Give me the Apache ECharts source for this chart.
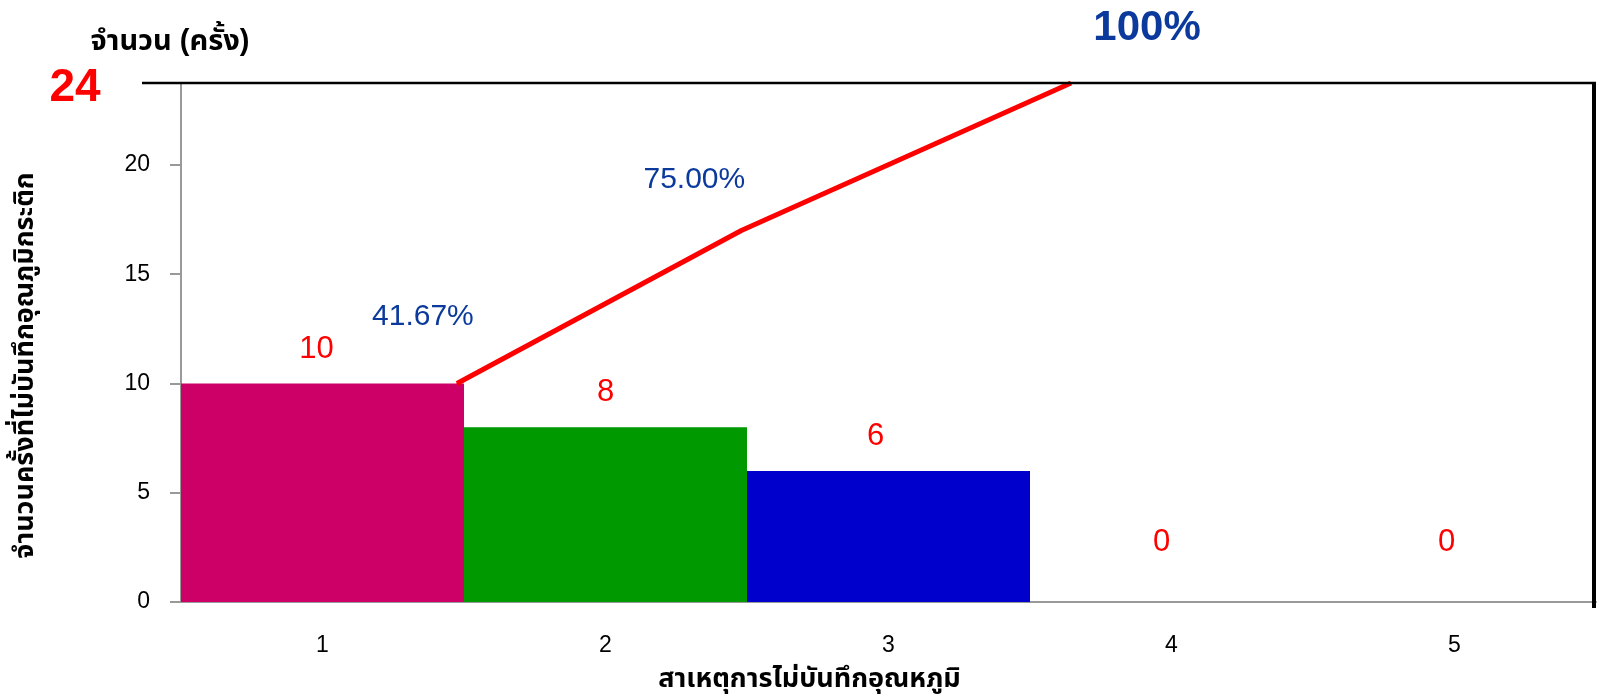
<!DOCTYPE html>
<html>
<head>
<meta charset="utf-8">
<script src="https://cdn.jsdelivr.net/npm/echarts@6/dist/echarts.min.js"></script>
<style>
html,body{margin:0;padding:0;background:#fff;}
#c{width:1599px;height:698px;}
</style>
</head>
<body>
<div id="c"></div>
<script>
// ---- data ----
const categories = ['1', '2', '3', '4', '5'];
const counts = [10, 8, 6, 0, 0];
const barColors = ['#CC0066', '#009900', '#0000CC', '#888888', '#888888'];
const yTickMax = 23.75;          // top of the count axis (frame line)
const yTopLabel = '24';
const cumPctLabels = ['41.67%', '75.00%', '100%'];
const cumLineX = [0.975, 1.98, 3.145];   // position along the categories (0..5)
const cumLineY = [10, 17, 23.75];        // height on the count axis
const yTitle = 'จำนวนครั้งที่ไม่บันทึกอุณภูมิกระติก';
const xTitle = 'สาเหตุการไม่บันทึกอุณหภูมิ';
const topTitle = 'จำนวน (ครั้ง)';

const FONT = "'Liberation Sans', Arial, 'Noto Sans Thai', 'Noto Sans', sans-serif";
const BLUE = '#0B3A9C';

const chart = echarts.init(document.getElementById('c'), null, {renderer: 'canvas'});

const countLabelShift = [-6, 0, -13, -10, -8];
const barData = counts.map((v, i) => ({
  value: v,
  itemStyle: {color: barColors[i]},
  label: {distance: v === 0 ? 44 : 19, offset: [countLabelShift[i], 0]}
}));

const pctOffsets = [[-34, -67], [-47, -51], [76, -55]];
const lineData = cumLineY.map((y, i) => ({
  value: [cumLineX[i], y],
  label: {
    show: true,
    position: 'inside',
    formatter: cumPctLabels[i],
    offset: pctOffsets[i],
    color: BLUE,
    fontFamily: FONT,
    fontSize: i === 2 ? 42 : 30,
    fontWeight: i === 2 ? 'bold' : 'normal'
  }
}));

const option = {
  animation: false,
  backgroundColor: '#fff',
  textStyle: {fontFamily: FONT},
  grid: {left: 181, right: 3, top: 83, bottom: 96, containLabel: false},
  xAxis: [{
    type: 'category',
    data: categories,
    axisLine: {show: true, lineStyle: {color: '#999', width: 2}},
    axisTick: {show: false},
    axisLabel: {color: '#000', fontSize: 23, margin: 32, fontFamily: FONT},
    name: xTitle,
    nameLocation: 'middle',
    nameGap: 64,
    nameTextStyle: {color: '#000', fontSize: 27, fontWeight: 'bold', fontFamily: FONT,
                    padding: [0, 158, 0, 0]},
    splitLine: {show: false}
  }, {
    type: 'value',
    min: 0, max: 5,
    show: false
  }],
  yAxis: [{
    type: 'value',
    min: 0,
    max: yTickMax,
    interval: 5,
    axisLine: {show: true, lineStyle: {color: '#999', width: 2}},
    axisTick: {show: true, length: 11, lineStyle: {color: '#999', width: 2}},
    axisLabel: {
      color: '#000', fontSize: 23, margin: 31, fontFamily: FONT,
      formatter: v => (v % 5 === 0 ? String(v) : '')
    },
    splitLine: {show: false},
    name: yTitle,
    nameLocation: 'middle',
    nameRotate: 90,
    nameGap: 142,
    nameTextStyle: {color: '#000', fontSize: 27, fontWeight: 'bold', fontFamily: FONT,
                    padding: [0, 46, 0, 0]}
  }],
  series: [{
    type: 'bar',
    xAxisIndex: 0,
    yAxisIndex: 0,
    data: barData,
    barWidth: '100%',
    barCategoryGap: '0%',
    label: {
      show: true,
      position: 'top',
      color: '#FF0000',
      fontSize: 31,
      fontFamily: FONT
    },
    z: 2
  }, {
    type: 'line',
    xAxisIndex: 1,
    yAxisIndex: 0,
    data: lineData,
    symbol: 'circle',
    symbolSize: 1,
    itemStyle: {color: '#FF0000'},
    lineStyle: {color: '#FF0000', width: 5},
    z: 5
  }]
};
chart.setOption(option);

// frame lines & free texts, positioned from the axes
const topY = chart.convertToPixel({yAxisIndex: 0}, yTickMax);
const baseY = chart.convertToPixel({yAxisIndex: 0}, 0);
const rightX = chart.convertToPixel({xAxisIndex: 1}, 5);
chart.setOption({
  graphic: [
    {type: 'line', shape: {x1: 142, y1: topY, x2: rightX, y2: topY},
     style: {stroke: '#000', lineWidth: 2.5}, z: 10},
    {type: 'line', shape: {x1: rightX - 2, y1: topY - 1, x2: rightX - 2, y2: baseY + 6},
     style: {stroke: '#000', lineWidth: 4}, z: 10},
    {type: 'text', x: 75, y: topY + 5,
     style: {text: yTopLabel, fill: '#FF0000', font: 'bold 46px ' + FONT, textAlign: 'center', textVerticalAlign: 'middle'}, z: 10},
    {type: 'text', x: 170, y: 42,
     style: {text: topTitle, fill: '#000', font: 'bold 29px ' + FONT, textAlign: 'center', textVerticalAlign: 'middle'}, z: 10}
  ]
});
</script>
</body>
</html>
